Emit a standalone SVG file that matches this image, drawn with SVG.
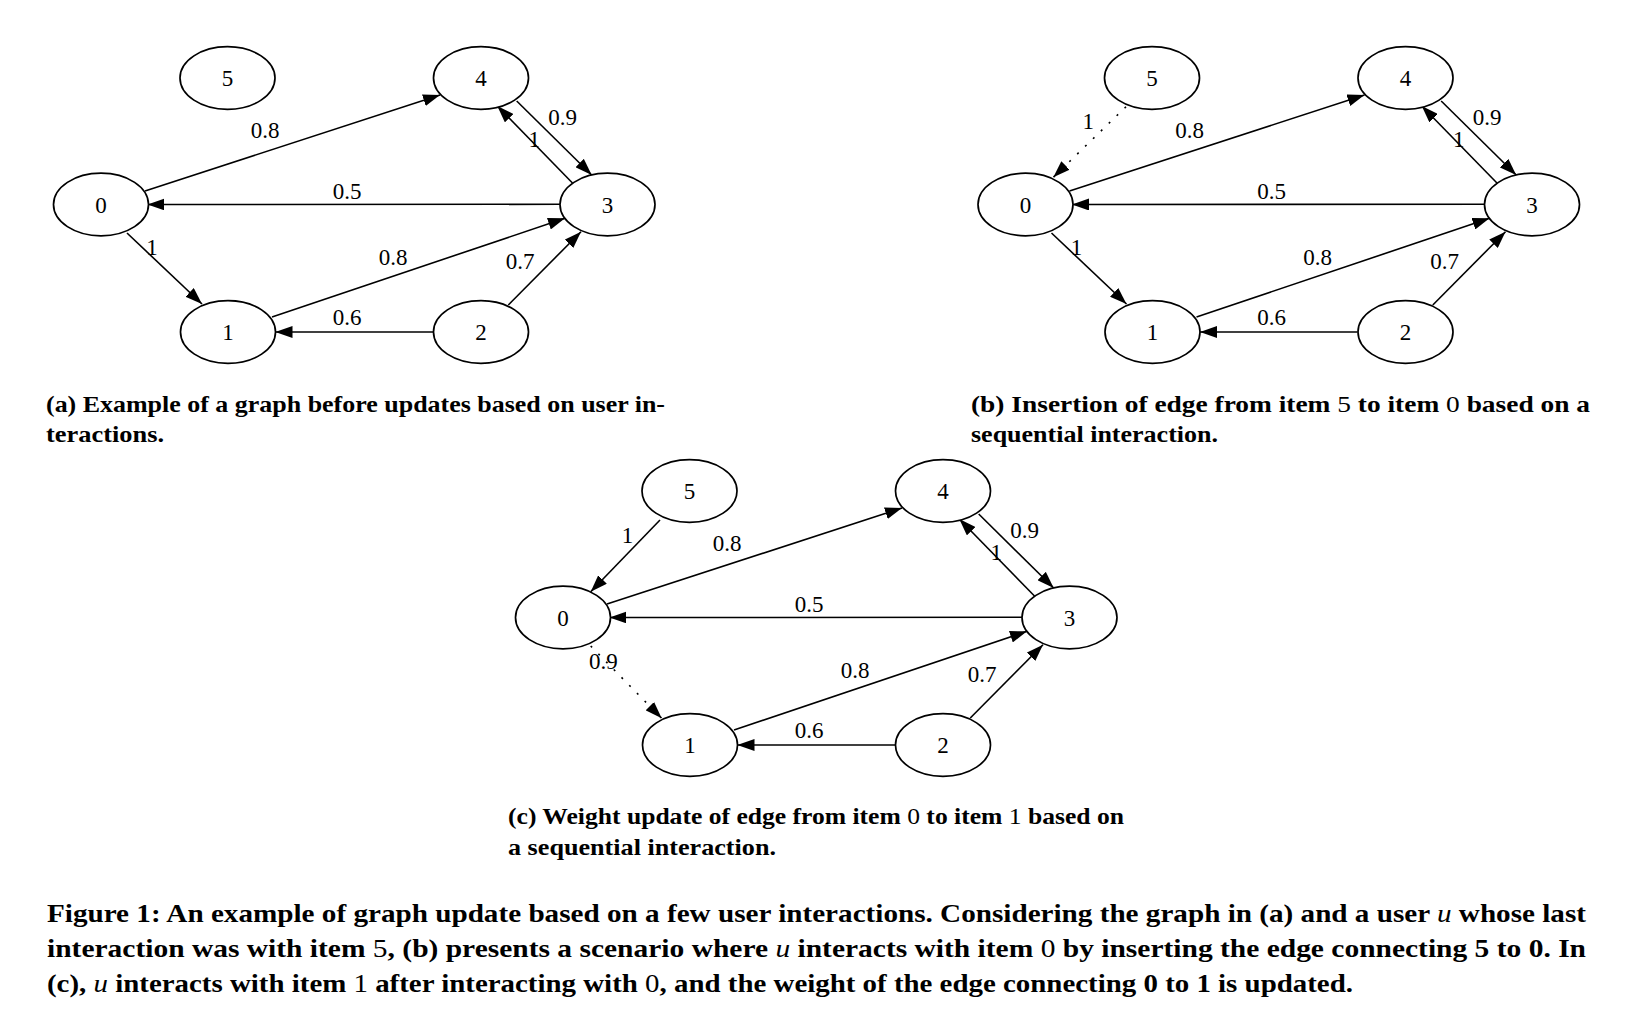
<svg xmlns="http://www.w3.org/2000/svg" width="1645" height="1012" viewBox="0 0 1645 1012">
<style>
.node ellipse{fill:#fff;stroke:#000;stroke-width:1.7}
.nl{font-family:"Liberation Serif",Tinos,"Times New Roman",serif;font-size:23px;text-anchor:middle;fill:#000}
.edge{stroke:#000;stroke-width:1.6;fill:none}
.dot{stroke-dasharray:2 9}
.el{font-family:"Liberation Serif",Tinos,"Times New Roman",serif;font-size:23px;text-anchor:middle;fill:#000}
.cap{font-family:"Liberation Serif",Tinos,"Times New Roman",serif;font-size:23.5px;font-weight:bold;fill:#000}
.fig{font-size:24.5px}
.m{font-weight:normal}
.u{font-weight:normal;font-style:italic}
</style>
<defs>
<marker id="arr" markerUnits="userSpaceOnUse" viewBox="0 0 17 12" refX="17" refY="6" markerWidth="17" markerHeight="12" orient="auto">
<path d="M0,0 L17,6 L0,12 Z" fill="#000" stroke="none"/>
</marker>
</defs>
<rect width="1645" height="1012" fill="#fff"/>

<!-- Panel (a) -->
<g id="panel-a">
<g id="a-edges">
<line class="edge" x1="145" y1="191" x2="440" y2="95" marker-end="url(#arr)"/>
<line class="edge" x1="516.7" y1="101" x2="591.7" y2="175" marker-end="url(#arr)"/>
<line class="edge" x1="572.7" y1="183.3" x2="497.3" y2="106" marker-end="url(#arr)"/>
<line class="edge" x1="560" y1="204.3" x2="147.5" y2="204.5" marker-end="url(#arr)"/>
<line class="edge" x1="127" y1="233" x2="202" y2="304" marker-end="url(#arr)"/>
<line class="edge" x1="272" y1="317" x2="565" y2="218.3" marker-end="url(#arr)"/>
<line class="edge" x1="508.3" y1="305" x2="581" y2="231.7" marker-end="url(#arr)"/>
<line class="edge" x1="433" y1="332" x2="275.5" y2="332" marker-end="url(#arr)"/>
<text class="el" x="265" y="138">0.8</text>
<text class="el" x="562.7" y="125">0.9</text>
<text class="el" x="534.3" y="147">1</text>
<text class="el" x="347" y="199">0.5</text>
<text class="el" x="152" y="255">1</text>
<text class="el" x="393" y="265">0.8</text>
<text class="el" x="520" y="269">0.7</text>
<text class="el" x="347" y="325">0.6</text>
</g>
<g id="a-n5" class="node"><ellipse cx="227.5" cy="78" rx="47.5" ry="31.3"/><text class="nl" x="227.5" y="86">5</text></g>
<g id="a-n4" class="node"><ellipse cx="481" cy="78" rx="47.5" ry="31.3"/><text class="nl" x="481" y="86">4</text></g>
<g id="a-n0" class="node"><ellipse cx="101" cy="204.5" rx="47.5" ry="31.3"/><text class="nl" x="101" y="212.5">0</text></g>
<g id="a-n3" class="node"><ellipse cx="607.5" cy="204.5" rx="47.5" ry="31.3"/><text class="nl" x="607.5" y="212.5">3</text></g>
<g id="a-n1" class="node"><ellipse cx="228" cy="332" rx="47.5" ry="31.3"/><text class="nl" x="228" y="340">1</text></g>
<g id="a-n2" class="node"><ellipse cx="481" cy="332" rx="47.5" ry="31.3"/><text class="nl" x="481" y="340">2</text></g>
</g>

<!-- Panel (b) -->
<g id="panel-b" transform="translate(924.5,0)">
<g id="b-edges">
<line class="edge dot" x1="201.5" y1="106.7" x2="128.8" y2="177.3" marker-end="url(#arr)"/>
<line class="edge" x1="145" y1="191" x2="440" y2="95" marker-end="url(#arr)"/>
<line class="edge" x1="516.7" y1="101" x2="591.7" y2="175" marker-end="url(#arr)"/>
<line class="edge" x1="572.7" y1="183.3" x2="497.3" y2="106" marker-end="url(#arr)"/>
<line class="edge" x1="560" y1="204.3" x2="147.5" y2="204.5" marker-end="url(#arr)"/>
<line class="edge" x1="127" y1="233" x2="202" y2="304" marker-end="url(#arr)"/>
<line class="edge" x1="272" y1="317" x2="565" y2="218.3" marker-end="url(#arr)"/>
<line class="edge" x1="508.3" y1="305" x2="581" y2="231.7" marker-end="url(#arr)"/>
<line class="edge" x1="433" y1="332" x2="275.5" y2="332" marker-end="url(#arr)"/>
<text class="el" x="163.8" y="129">1</text>
<text class="el" x="265" y="138">0.8</text>
<text class="el" x="562.7" y="125">0.9</text>
<text class="el" x="534.3" y="147">1</text>
<text class="el" x="347" y="199">0.5</text>
<text class="el" x="152" y="255">1</text>
<text class="el" x="393" y="265">0.8</text>
<text class="el" x="520" y="269">0.7</text>
<text class="el" x="347" y="325">0.6</text>
</g>
<g id="b-n5" class="node"><ellipse cx="227.5" cy="78" rx="47.5" ry="31.3"/><text class="nl" x="227.5" y="86">5</text></g>
<g id="b-n4" class="node"><ellipse cx="481" cy="78" rx="47.5" ry="31.3"/><text class="nl" x="481" y="86">4</text></g>
<g id="b-n0" class="node"><ellipse cx="101" cy="204.5" rx="47.5" ry="31.3"/><text class="nl" x="101" y="212.5">0</text></g>
<g id="b-n3" class="node"><ellipse cx="607.5" cy="204.5" rx="47.5" ry="31.3"/><text class="nl" x="607.5" y="212.5">3</text></g>
<g id="b-n1" class="node"><ellipse cx="228" cy="332" rx="47.5" ry="31.3"/><text class="nl" x="228" y="340">1</text></g>
<g id="b-n2" class="node"><ellipse cx="481" cy="332" rx="47.5" ry="31.3"/><text class="nl" x="481" y="340">2</text></g>
</g>

<!-- Panel (c) -->
<g id="panel-c" transform="translate(462,413)">
<g id="c-edges">
<line class="edge" x1="198" y1="107" x2="128.7" y2="178.7" marker-end="url(#arr)"/>
<line class="edge" x1="145" y1="191" x2="440" y2="95" marker-end="url(#arr)"/>
<line class="edge" x1="516.7" y1="101" x2="591.7" y2="175" marker-end="url(#arr)"/>
<line class="edge" x1="572.7" y1="183.3" x2="497.3" y2="106" marker-end="url(#arr)"/>
<line class="edge" x1="560" y1="204.3" x2="147.5" y2="204.5" marker-end="url(#arr)"/>
<line class="edge dot" x1="128.7" y1="233" x2="199.7" y2="305.3" marker-end="url(#arr)"/>
<line class="edge" x1="272" y1="317" x2="565" y2="218.3" marker-end="url(#arr)"/>
<line class="edge" x1="508.3" y1="305" x2="581" y2="231.7" marker-end="url(#arr)"/>
<line class="edge" x1="433" y1="332" x2="275.5" y2="332" marker-end="url(#arr)"/>
<text class="el" x="165.6" y="130">1</text>
<text class="el" x="265" y="138">0.8</text>
<text class="el" x="562.7" y="125">0.9</text>
<text class="el" x="534.3" y="147">1</text>
<text class="el" x="347" y="199">0.5</text>
<text class="el" x="141.3" y="256">0.9</text>
<text class="el" x="393" y="265">0.8</text>
<text class="el" x="520" y="269">0.7</text>
<text class="el" x="347" y="325">0.6</text>
</g>
<g id="c-n5" class="node"><ellipse cx="227.5" cy="78" rx="47.5" ry="31.3"/><text class="nl" x="227.5" y="86">5</text></g>
<g id="c-n4" class="node"><ellipse cx="481" cy="78" rx="47.5" ry="31.3"/><text class="nl" x="481" y="86">4</text></g>
<g id="c-n0" class="node"><ellipse cx="101" cy="204.5" rx="47.5" ry="31.3"/><text class="nl" x="101" y="212.5">0</text></g>
<g id="c-n3" class="node"><ellipse cx="607.5" cy="204.5" rx="47.5" ry="31.3"/><text class="nl" x="607.5" y="212.5">3</text></g>
<g id="c-n1" class="node"><ellipse cx="228" cy="332" rx="47.5" ry="31.3"/><text class="nl" x="228" y="340">1</text></g>
<g id="c-n2" class="node"><ellipse cx="481" cy="332" rx="47.5" ry="31.3"/><text class="nl" x="481" y="340">2</text></g>
</g>

<!-- Captions -->
<g id="captions">
<text class="cap" x="46" y="412" textLength="619" lengthAdjust="spacingAndGlyphs">(a) Example of a graph before updates based on user in-</text>
<text class="cap" x="46" y="442" textLength="118" lengthAdjust="spacingAndGlyphs">teractions.</text>
<text class="cap" x="971" y="412" textLength="619" lengthAdjust="spacingAndGlyphs">(b) Insertion of edge from item <tspan class="m">5</tspan> to item <tspan class="m">0</tspan> based on a</text>
<text class="cap" x="971" y="442" textLength="247" lengthAdjust="spacingAndGlyphs">sequential interaction.</text>
<text class="cap" x="508" y="824" textLength="616" lengthAdjust="spacingAndGlyphs">(c) Weight update of edge from item <tspan class="m">0</tspan> to item <tspan class="m">1</tspan> based on</text>
<text class="cap" x="508" y="855" textLength="268" lengthAdjust="spacingAndGlyphs">a sequential interaction.</text>
<text class="cap fig" x="47" y="922" textLength="1539" lengthAdjust="spacingAndGlyphs">Figure 1: An example of graph update based on a few user interactions. Considering the graph in (a) and a user <tspan class="u">u</tspan> whose last</text>
<text class="cap fig" x="47" y="957" textLength="1539" lengthAdjust="spacingAndGlyphs">interaction was with item <tspan class="m">5</tspan>, (b) presents a scenario where <tspan class="u">u</tspan> interacts with item <tspan class="m">0</tspan> by inserting the edge connecting 5 to 0. In</text>
<text class="cap fig" x="47" y="992" textLength="1306" lengthAdjust="spacingAndGlyphs">(c), <tspan class="u">u</tspan> interacts with item <tspan class="m">1</tspan> after interacting with <tspan class="m">0</tspan>, and the weight of the edge connecting 0 to 1 is updated.</text>
</g>
</svg>
